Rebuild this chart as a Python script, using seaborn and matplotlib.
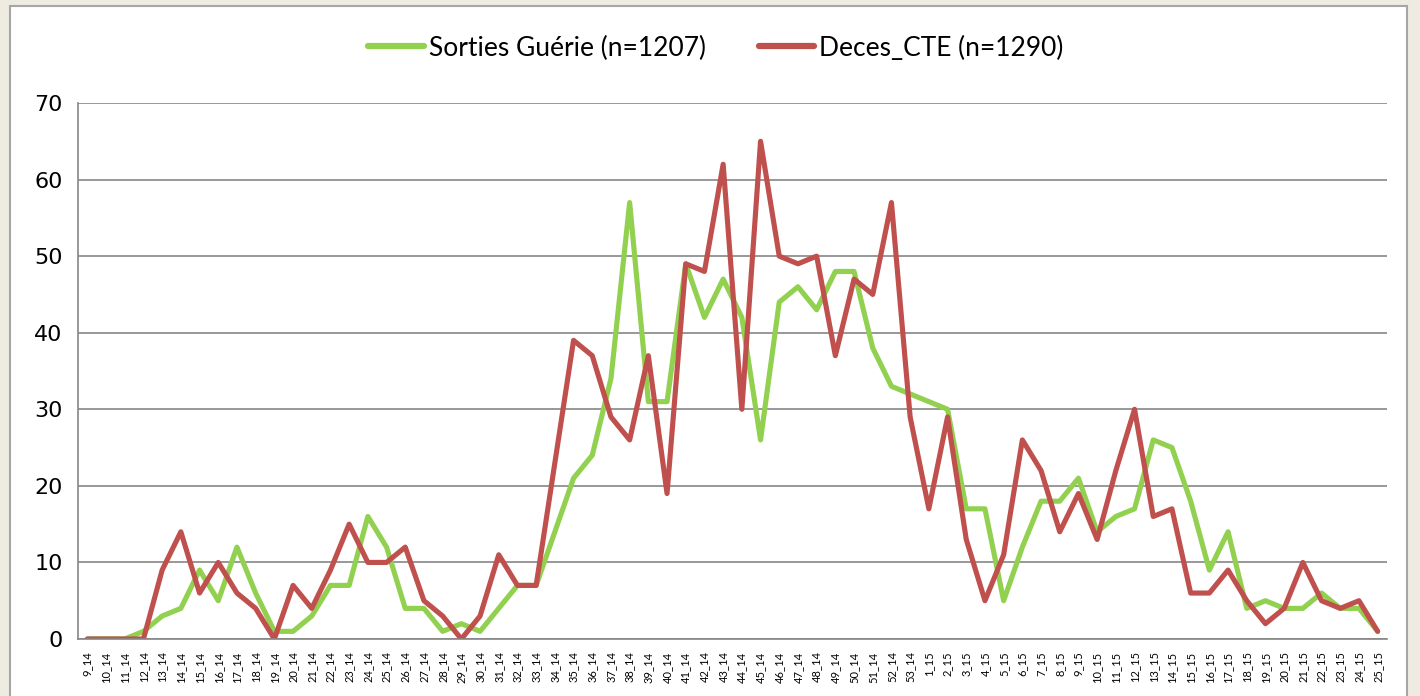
import numpy as np
import pandas as pd
import seaborn as sns
import matplotlib.pyplot as plt
from matplotlib.patches import Rectangle

semaines = [f"{w}_14" for w in range(9, 54)] + [f"{w}_15" for w in range(1, 26)]

gueris = [0, 0, 0, 1, 3, 4, 9, 5, 12, 6,
          1, 1, 3, 7, 7, 16, 12, 4, 4, 1,
          2, 1, 4, 7, 7, 14, 21, 24, 34, 57,
          31, 31, 49, 42, 47, 42, 26, 44, 46, 43,
          48, 48, 38, 33, 32, 31, 30, 17, 17, 5,
          12, 18, 18, 21, 14, 16, 17, 26, 25, 18,
          9, 14, 4, 5, 4, 4, 6, 4, 4, 1]

deces = [0, 0, 0, 0, 9, 14, 6, 10, 6, 4,
         0, 7, 4, 9, 15, 10, 10, 12, 5, 3,
         0, 3, 11, 7, 7, 23, 39, 37, 29, 26,
         37, 19, 49, 48, 62, 30, 65, 50, 49, 50,
         37, 47, 45, 57, 29, 17, 29, 13, 5, 11,
         26, 22, 14, 19, 13, 22, 30, 16, 17, 6,
         6, 9, 5, 2, 4, 10, 5, 4, 5, 1]

series = ["Sorties Guérie (n=1207)", "Deces_CTE (n=1290)"]
couleurs = ["#92D050", "#C0504D"]

df = pd.DataFrame({
    "semaine": semaines * 2,
    "valeur": gueris + deces,
    "serie": [series[0]] * len(semaines) + [series[1]] * len(semaines),
})

sns.set_theme(style="white")
plt.rcParams["font.family"] = ["Lato", "DejaVu Sans"]

fig = plt.figure(figsize=(14.2, 6.96), dpi=100)
fig.patch.set_facecolor("#EEECE1")
fig.patches.append(Rectangle((10 / 1420, -0.05), 1397 / 1420, 1.05 - 6 / 696,
                             transform=fig.transFigure, facecolor="white",
                             edgecolor="#A6A6A6", linewidth=1.5, zorder=-5))

ax = fig.add_axes([78 / 1420, 1 - 639 / 696, 1309 / 1420, 536 / 696])
ax.set_facecolor("none")

sns.lineplot(data=df, x="semaine", y="valeur", hue="serie", palette=couleurs,
             sort=False, linewidth=3.7, ax=ax, legend=False,
             solid_joinstyle="round", solid_capstyle="round")

ax.set_xlim(-0.5, len(semaines) - 0.5)
ax.set_ylim(0, 70)
ax.set_yticks(range(0, 71, 10))
ax.set_xticks(range(len(semaines)))
ax.set_xticklabels(semaines, rotation=90, fontsize=8)
ax.set_xticks(np.arange(-0.5, len(semaines)), minor=True)
ax.tick_params(axis="x", which="major", length=0, pad=9, labelcolor="black")
ax.tick_params(axis="x", which="minor", length=5, color="#868686", width=1.2, direction="out")
ax.tick_params(axis="y", length=7, color="#868686", width=1.2, direction="out",
               labelsize=16, pad=4, labelcolor="black")
for lbl in ax.get_yticklabels():
    lbl.set_family(["DejaVu Sans"])
ax.set_xlabel("")
ax.set_ylabel("")

ax.grid(axis="y", color="#868686", linewidth=1.2)
ax.set_axisbelow(True)
for s in ["top", "right"]:
    ax.spines[s].set_visible(False)
for s in ["left", "bottom"]:
    ax.spines[s].set_color("#868686")
    ax.spines[s].set_linewidth(1.2)

handles = ax.get_lines()[:2]
leg = fig.legend(handles, series, loc="center", bbox_to_anchor=(716 / 1420, 1 - 48 / 696),
                 ncol=2, frameon=False, fontsize=19, handlelength=2.1,
                 handletextpad=0.2, columnspacing=2.0, labelcolor="black")
for line in leg.get_lines():
    line.set_linewidth(4.5)

fig.savefig("out.png", dpi=100, facecolor=fig.get_facecolor())
